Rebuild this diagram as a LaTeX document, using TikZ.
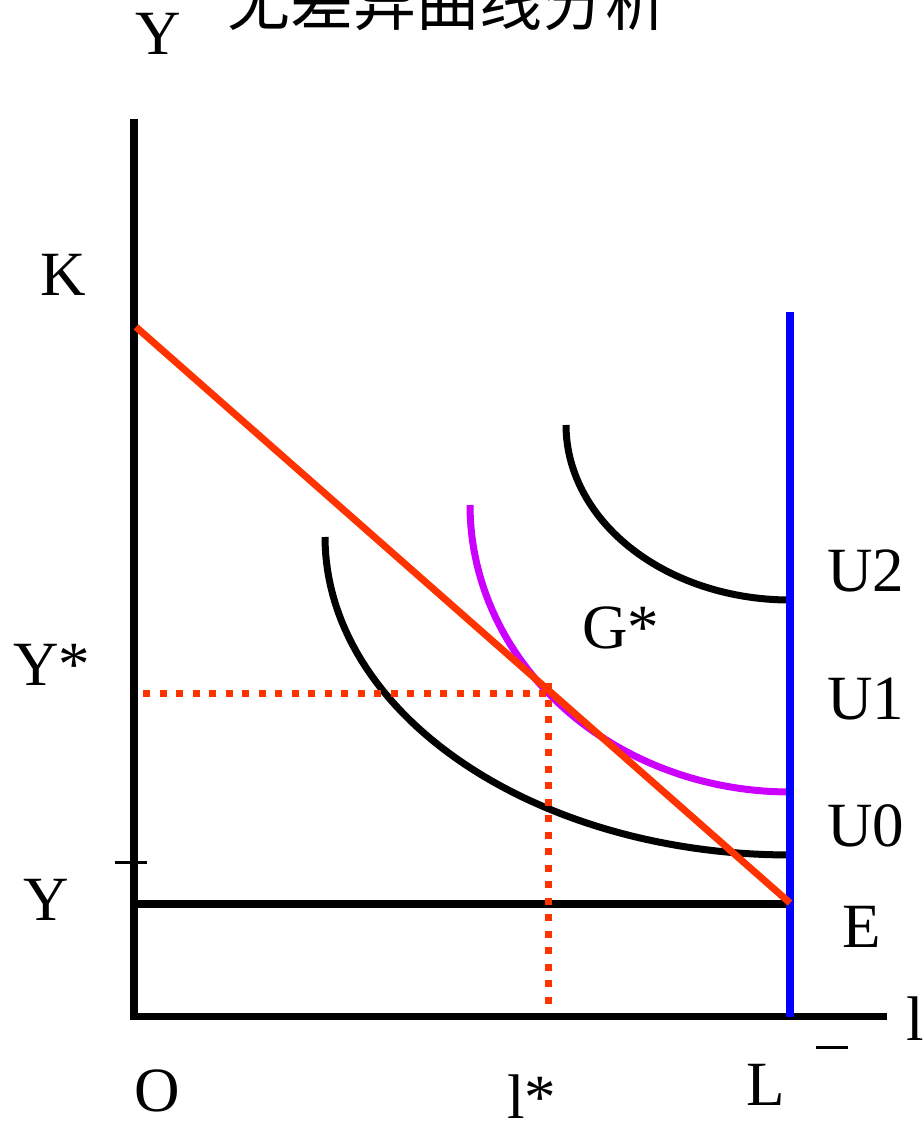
\documentclass[tikz,border=0pt]{standalone}
\usepackage{fontspec}
\setmainfont{Liberation Serif}
\newfontfamily\cjk{Noto Sans CJK SC}
\definecolor{budget}{HTML}{FF3300}
\definecolor{magc}{HTML}{CC00FF}
\definecolor{bluec}{HTML}{0000FF}
\begin{document}
\begin{tikzpicture}[x=1pt,y=-1pt,
  lbl/.style={anchor=base west,inner sep=0pt,font=\fontsize{63}{70}\selectfont},
  axisline/.style={line width=7.5pt,black},
  curve/.style={line width=7pt},
  dotline/.style={line width=7pt,budget,dash pattern=on 7pt off 9.5pt}]
\useasboundingbox (0,0) rectangle (922,1123);
% title
\node[anchor=base west,inner sep=0pt,font=\cjk\fontsize{63}{70}\selectfont] (title) at (227,26) {无差异曲线分析};
% coordinates
\coordinate (O) at (134,1016.5);
\coordinate (ytop) at (134,119);
\coordinate (xend) at (887,1016.5);
\coordinate (Lbot) at (790,1016.5);
\coordinate (Ltop) at (790,312);
\coordinate (Kpt) at (136,327);
\coordinate (Ept) at (790,903);
\coordinate (Ybar) at (134,904);
\coordinate (Ebar) at (790,904);
\coordinate (G) at (548.5,693);
\coordinate (Ystar) at (143,693);
\coordinate (lstar) at (548.5,1008);
% axes
\draw[axisline] (ytop) -- (134,1020);
\draw[axisline] (130.5,1016.5) -- (xend);
% endowment line
\draw[axisline] (Ybar) -- (Ebar);
% indifference curves
\draw[curve,black] plot[domain=0:90,samples=60] ({790-465*cos(\x)},{537+318*sin(\x)});
\draw[curve,magc] plot[domain=0:90,samples=60] ({790-320*cos(\x)},{505+287*sin(\x)});
\draw[curve,black] plot[domain=0:90,samples=60] ({790-224*cos(\x)},{425+175*sin(\x)});
% dotted guides
\draw[dotline] (Ystar) -- (G);
\draw[dotline] (548.5,683) -- (lstar);
% time constraint
\draw[line width=7.5pt,bluec] (Ltop) -- (Lbot);
% budget line
\draw[line width=7pt,budget] (Kpt) -- (Ept);
% bars
\draw[line width=3pt] (115,862) -- (147,862);
\draw[line width=3pt] (816,1047) -- (848,1047);
% labels
\node[lbl] (ylab) at (135,55) {Y};
\node[lbl] (klab) at (40,295) {K};
\node[lbl] (yslab) at (13,685) {Y*};
\node[lbl] (yblab) at (23,920) {Y};
\node[lbl] (olab) at (134,1111) {O};
\node[lbl] (lslab) at (507,1118) {l*};
\node[lbl] (Llab) at (746,1105) {L};
\node[lbl] (lendlab) at (906,1040) {l};
\node[lbl] (u2) at (827,591) {U2};
\node[lbl] (u1) at (827,719) {U1};
\node[lbl] (u0) at (827,846) {U0};
\node[lbl] (elab) at (842,947) {E};
\node[lbl] (glab) at (582,648) {G*};
\end{tikzpicture}
\end{document}
